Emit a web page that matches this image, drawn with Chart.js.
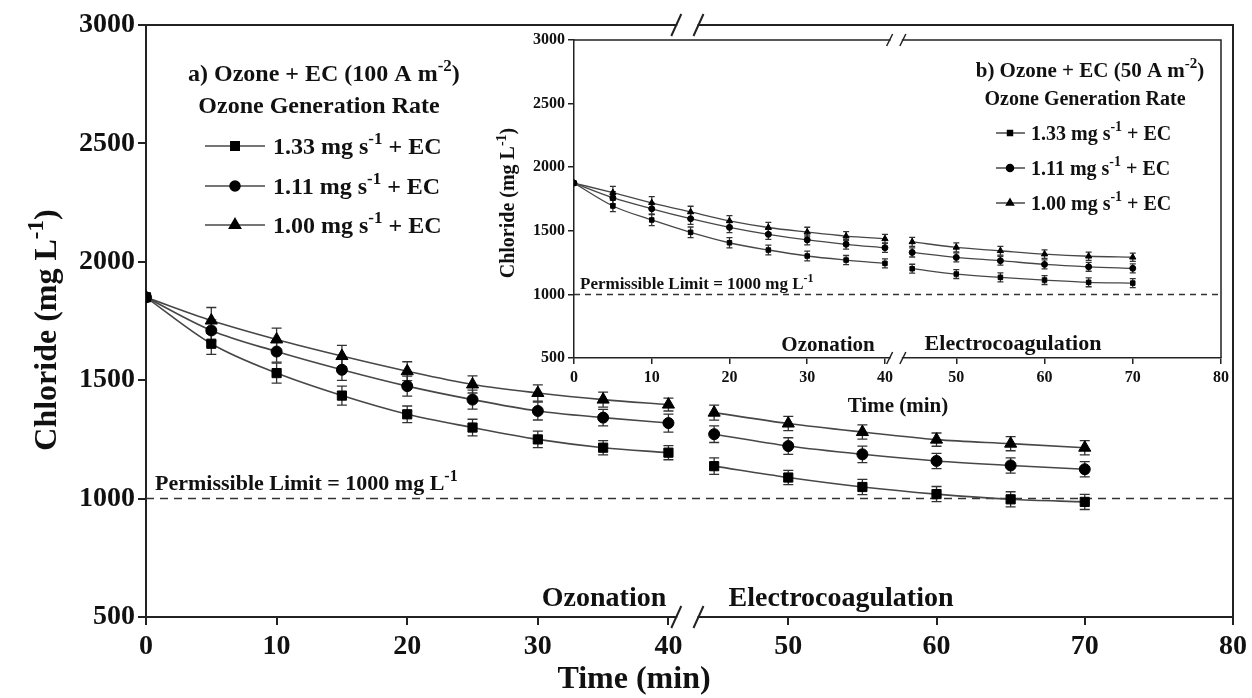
<!DOCTYPE html>
<html>
<head>
<meta charset="utf-8">
<script src="https://cdn.jsdelivr.net/npm/chart.js@4.4.1/dist/chart.umd.min.js"></script>
<style>
  html, body { margin: 0; padding: 0; background: #fff; }
  #wrap { position: relative; width: 1252px; height: 698px; overflow: hidden; }
  #main { position: absolute; left: 0; top: 0; }
  #inset { position: absolute; left: 470px; top: 25px; }
</style>
</head>
<body>
<div id="wrap">
  <canvas id="main" width="1252" height="698"></canvas>
  <canvas id="inset" width="766" height="400"></canvas>
</div>
<script>
  // sampling times (min); 0-40 ozonation, 45-70 electrocoagulation
  var TIMES = [0, 5, 10, 15, 20, 25, 30, 35, 40, 45, 50, 55, 60, 65, 70];
  var X_TICKS = [0, 10, 20, 30, 40, 50, 60, 70, 80];
  var Y_MIN = 500, Y_MAX = 3000, Y_STEP = 500;
  var LIMIT = 1000;

  // a) Ozone + EC (100 A m-2), chloride mg/L
  var A_133 = [1850, 1654, 1530, 1435, 1356, 1300, 1250, 1215, 1194, 1137, 1089, 1049, 1019, 997, 986];
  var A_111 = [1850, 1710, 1621, 1544, 1475, 1418, 1370, 1342, 1319, 1272, 1222, 1187, 1159, 1140, 1124];
  var A_100 = [1850, 1752, 1672, 1602, 1538, 1482, 1446, 1418, 1397, 1363, 1317, 1281, 1249, 1232, 1215];
  var A_133_ERR = [0, 45, 42, 40, 35, 35, 35, 30, 30, 35, 30, 32, 32, 32, 32];
  var A_111_ERR = [0, 45, 45, 45, 42, 40, 38, 35, 38, 35, 35, 35, 32, 32, 32];
  var A_100_ERR = [0, 55, 48, 45, 40, 36, 34, 32, 27, 32, 30, 30, 28, 30, 30];

  // b) Ozone + EC (50 A m-2), chloride mg/L
  var B_133 = [1875, 1695, 1585, 1488, 1406, 1349, 1302, 1270, 1244, 1202, 1160, 1134, 1113, 1095, 1089];
  var B_111 = [1875, 1760, 1673, 1595, 1527, 1472, 1428, 1394, 1367, 1330, 1291, 1265, 1236, 1217, 1205];
  var B_100 = [1875, 1800, 1720, 1648, 1578, 1526, 1490, 1458, 1437, 1413, 1370, 1343, 1317, 1300, 1292];
  var B_133_ERR = [0, 45, 45, 42, 40, 38, 38, 36, 36, 35, 35, 35, 35, 35, 35];
  var B_111_ERR = [0, 48, 45, 45, 42, 40, 38, 38, 36, 36, 35, 35, 35, 35, 35];
  var B_100_ERR = [0, 50, 48, 45, 42, 40, 38, 36, 35, 35, 35, 35, 33, 32, 32];

  var RATES = ['1.33', '1.11', '1.00'];
  var STYLES = ['rect', 'circle', 'triangle'];

  // broken time axis: 0-40 on one scale, 45-80 slightly stretched
  var BREAK = { leftEnd: 40, rightStart: 45, uRight: 43.5, k: 1.135, marks: [40.6, 42.3] };
  function toU(t) {
    return t <= BREAK.leftEnd ? t : BREAK.uRight + (t - BREAK.rightStart) * BREAK.k;
  }

  var FONT = '"Liberation Serif", "Times New Roman", serif';
  var INK = '#111';
  var LINE = '#474747';

  function toPoints(values, errs) {
    var pts = [];
    TIMES.forEach(function (t, i) {
      if (i > 0 && t > BREAK.leftEnd && TIMES[i - 1] <= BREAK.leftEnd) {
        pts.push({ x: (toU(TIMES[i - 1]) + toU(t)) / 2, y: null });
      }
      pts.push({ x: toU(t), y: values[i], e: errs[i] });
    });
    return pts;
  }

  function drawRich(ctx, parts, x, y, size, align) {
    var sup = Math.round(size * 0.72);
    var w = 0;
    parts.forEach(function (p) {
      ctx.font = 'bold ' + (p[1] ? sup : size) + 'px ' + FONT;
      w += ctx.measureText(p[0]).width;
    });
    var cx = align === 'center' ? x - w / 2 : (align === 'right' ? x - w : x);
    ctx.textAlign = 'left';
    ctx.textBaseline = 'alphabetic';
    parts.forEach(function (p) {
      ctx.font = 'bold ' + (p[1] ? sup : size) + 'px ' + FONT;
      ctx.fillText(p[0], cx, p[1] ? y - size * 0.42 : y);
      cx += ctx.measureText(p[0]).width;
    });
  }

  function marker(ctx, style, r, x, y) {
    if (Chart.helpers && Chart.helpers.drawPoint) {
      Chart.helpers.drawPoint(ctx, { pointStyle: style, rotation: 0, radius: r, borderWidth: 1 }, x, y);
    }
  }

  var errorBars = {
    id: 'errorBars',
    beforeDatasetsDraw: function (chart, args, o) {
      var ctx = chart.ctx, ys = chart.scales.y;
      ctx.save();
      ctx.strokeStyle = o.color;
      ctx.lineWidth = o.width;
      chart.data.datasets.forEach(function (ds, di) {
        if (!ds.errorBars) return;
        var meta = chart.getDatasetMeta(di);
        meta.data.forEach(function (pt, i) {
          var raw = ds.data[i];
          if (!raw || raw.y == null || !raw.e) return;
          var top = ys.getPixelForValue(raw.y + raw.e);
          var bot = ys.getPixelForValue(raw.y - raw.e);
          ctx.beginPath();
          ctx.moveTo(pt.x, top); ctx.lineTo(pt.x, bot);
          ctx.moveTo(pt.x - o.cap, top); ctx.lineTo(pt.x + o.cap, top);
          ctx.moveTo(pt.x - o.cap, bot); ctx.lineTo(pt.x + o.cap, bot);
          ctx.stroke();
        });
      });
      ctx.restore();
    }
  };

  var decor = {
    id: 'decor',
    afterDraw: function (chart, args, o) {
      var ctx = chart.ctx, a = chart.chartArea, xs = chart.scales.x;
      ctx.save();
      ctx.strokeStyle = '#222';
      ctx.lineWidth = o.frame;
      ctx.beginPath();
      ctx.moveTo(a.left, a.top); ctx.lineTo(a.right, a.top); ctx.lineTo(a.right, a.bottom);
      ctx.stroke();

      // axis break marks on top border and x axis
      var b0 = xs.getPixelForValue(BREAK.marks[0]);
      var b1 = xs.getPixelForValue(BREAK.marks[1]);
      [a.top, a.bottom].forEach(function (y) {
        ctx.fillStyle = '#fff';
        ctx.fillRect(b0 + 1, y - 3, b1 - b0 - 2, 6);
        ctx.beginPath();
        [b0, b1].forEach(function (bx) {
          ctx.moveTo(bx - o.slashW, y + o.slashH);
          ctx.lineTo(bx + o.slashW, y - o.slashH);
        });
        ctx.stroke();
      });

      ctx.fillStyle = INK;
      o.texts.forEach(function (t) {
        if (t.rotate) {
          ctx.save();
          ctx.translate(t.x, t.y);
          ctx.rotate(-Math.PI / 2);
          drawRich(ctx, t.parts, 0, 0, t.size, 'center');
          ctx.restore();
        } else {
          drawRich(ctx, t.parts, t.x, t.y, t.size, t.align);
        }
      });

      var lg = o.legend;
      lg.rows.forEach(function (y, i) {
        ctx.strokeStyle = LINE;
        ctx.lineWidth = 1.5;
        ctx.beginPath();
        ctx.moveTo(lg.x0, y); ctx.lineTo(lg.x1, y);
        ctx.stroke();
        ctx.fillStyle = '#000';
        ctx.strokeStyle = '#000';
        marker(ctx, STYLES[i], lg.radius[i], lg.mx, y);
        ctx.fillStyle = INK;
        drawRich(ctx, [[RATES[i] + ' mg s', 0], ['-1', 1], [' + EC', 0]], lg.tx, y + lg.size * 0.33, lg.size, 'left');
      });
      ctx.restore();
    }
  };

  function buildChart(id, p) {
    var datasets = p.series.map(function (s, i) {
      return {
        data: toPoints(s[0], s[1]),
        errorBars: true,
        borderColor: LINE,
        borderWidth: p.lineWidth,
        pointStyle: STYLES[i],
        pointRadius: p.radius[i],
        pointBackgroundColor: '#000',
        pointBorderColor: '#000',
        pointBorderWidth: 1,
        cubicInterpolationMode: 'monotone',
        spanGaps: false
      };
    });
    datasets.push({
      data: [{ x: 0, y: LIMIT }, { x: toU(X_TICKS[X_TICKS.length - 1]), y: LIMIT }],
      borderColor: '#333',
      borderWidth: 1.5,
      borderDash: p.dash,
      pointRadius: 0
    });

    return new Chart(document.getElementById(id).getContext('2d'), {
      type: 'line',
      data: { datasets: datasets },
      plugins: [errorBars, decor],
      options: {
        responsive: false,
        animation: false,
        devicePixelRatio: 1,
        layout: { padding: p.padding },
        plugins: {
          legend: { display: false },
          tooltip: { enabled: false },
          errorBars: { color: '#333', width: 1.3, cap: p.cap },
          decor: p.decor
        },
        scales: {
          x: {
            type: 'linear',
            min: 0,
            max: toU(X_TICKS[X_TICKS.length - 1]),
            afterBuildTicks: function (scale) {
              scale.ticks = X_TICKS.map(function (v) { return { value: toU(v) }; });
            },
            afterFit: function (scale) { scale.height = p.xHeight; },
            ticks: {
              autoSkip: false,
              maxRotation: 0,
              padding: p.xPad,
              color: INK,
              font: { family: FONT, size: p.tickSize, weight: 'bold' },
              callback: function (v, i) { return String(X_TICKS[i]); }
            },
            grid: { drawOnChartArea: false, tickLength: p.tickLen, color: '#222', lineWidth: p.frame },
            border: { color: '#222', width: p.frame }
          },
          y: {
            min: Y_MIN,
            max: Y_MAX,
            afterFit: function (scale) { scale.width = p.yWidth; },
            ticks: {
              stepSize: Y_STEP,
              padding: p.yPad,
              color: INK,
              font: { family: FONT, size: p.tickSize, weight: 'bold' },
              callback: function (v) { return String(v); }
            },
            grid: { drawOnChartArea: false, tickLength: p.tickLen, color: '#222', lineWidth: p.frame },
            border: { color: '#222', width: p.frame }
          }
        }
      }
    });
  }

  buildChart('main', {
    series: [[A_133, A_133_ERR], [A_111, A_111_ERR], [A_100, A_100_ERR]],
    radius: [6.5, 5.5, 7],
    lineWidth: 1.6,
    cap: 5,
    dash: [8, 6],
    padding: { top: 25, right: 16, left: 0, bottom: 0 },
    xHeight: 81,
    yWidth: 146,
    xPad: 5,
    yPad: 3,
    tickLen: 8,
    tickSize: 28,
    frame: 2,
    decor: {
      frame: 2,
      slashW: 5,
      slashH: 11,
      texts: [
        { parts: [['Chloride (mg L', 0], ['-1', 1], [')', 0]], x: 56, y: 330, size: 32, rotate: true },
        { parts: [['Time (min)', 0]], x: 634, y: 688, size: 32, align: 'center' },
        { parts: [['Ozonation', 0]], x: 604, y: 606, size: 28, align: 'center' },
        { parts: [['Electrocoagulation', 0]], x: 841, y: 606, size: 28, align: 'center' },
        { parts: [['Permissible Limit = 1000 mg L', 0], ['-1', 1]], x: 155, y: 490, size: 22, align: 'left' },
        { parts: [['a) Ozone + EC (100 A m', 0], ['-2', 1], [')', 0]], x: 188, y: 81, size: 24, align: 'left' },
        { parts: [['Ozone Generation Rate', 0]], x: 319, y: 113, size: 24, align: 'center' }
      ],
      legend: { x0: 205, x1: 265, mx: 235, tx: 273, rows: [146, 186, 225], size: 24, radius: [6, 5, 6.5] }
    }
  });

  buildChart('inset', {
    series: [[B_133, B_133_ERR], [B_111, B_111_ERR], [B_100, B_100_ERR]],
    radius: [3.2, 3, 3.6],
    lineWidth: 1.3,
    cap: 3,
    dash: [6, 5],
    padding: { top: 15, right: 15, left: 0, bottom: 0 },
    xHeight: 67,
    yWidth: 104,
    xPad: 4,
    yPad: 3,
    tickLen: 6,
    tickSize: 16,
    frame: 1.5,
    decor: {
      frame: 1.5,
      slashW: 3,
      slashH: 6,
      texts: [
        { parts: [['Chloride (mg L', 0], ['-1', 1], [')', 0]], x: 44, y: 178, size: 20, rotate: true },
        { parts: [['Time (min)', 0]], x: 428, y: 387, size: 21, align: 'center' },
        { parts: [['Ozonation', 0]], x: 358, y: 326, size: 21, align: 'center' },
        { parts: [['Electrocoagulation', 0]], x: 543, y: 325, size: 22, align: 'center' },
        { parts: [['Permissible Limit = 1000 mg L', 0], ['-1', 1]], x: 110, y: 264, size: 17, align: 'left' },
        { parts: [['b) Ozone + EC (50 A m', 0], ['-2', 1], [')', 0]], x: 620, y: 52, size: 21, align: 'center' },
        { parts: [['Ozone Generation Rate', 0]], x: 615, y: 80, size: 20, align: 'center' }
      ],
      legend: { x0: 526, x1: 555, mx: 540, tx: 561, rows: [108, 143, 178], size: 20, radius: [3.5, 3.5, 4] }
    }
  });
</script>
</body>
</html>
